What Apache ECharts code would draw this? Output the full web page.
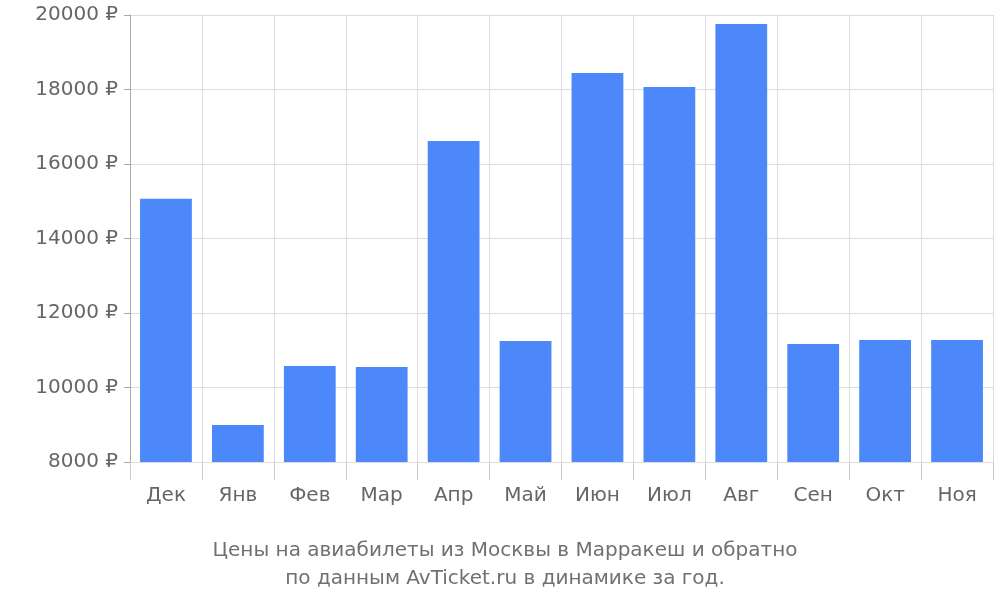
<!DOCTYPE html>
<html><head><meta charset="utf-8">
<script src="https://cdn.jsdelivr.net/npm/echarts@6/dist/echarts.min.js"></script>
<style>html,body{margin:0;padding:0;background:#fff}#c{width:1000px;height:600px}</style>
</head><body><div id="c"></div>
<script>
const categories = ['Дек','Янв','Фев','Мар','Апр','Май','Июн','Июл','Авг','Сен','Окт','Ноя'];
const prices = [15070, 8990, 10580, 10550, 16620, 11250, 18440, 18070, 19760, 11170, 11275, 11275];
const chart = echarts.init(document.getElementById('c'));
chart.setOption({
  animation:false,
  title:{text:'Цены на авиабилеты из Москвы в Марракеш и обратно\nпо данным AvTicket.ru в динамике за год.',
    left:500, textAlign:'center', top:532,
    textStyle:{fontFamily:'DejaVu Sans',fontSize:20,fontWeight:'normal',color:'#707070',lineHeight:28}},
  grid:{left:130,right:7,top:15,bottom:138},
  xAxis:{type:'category',data:categories,boundaryGap:true,
    axisLine:{show:false},
    axisTick:{show:true,length:18,lineStyle:{color:'#ccc'}},
    splitLine:{show:true,lineStyle:{color:'#ddd'}},
    axisLabel:{fontFamily:'DejaVu Sans',fontSize:20,color:'#666',margin:24}},
  yAxis:{type:'value',min:8000,max:20000,interval:2000,
    axisLine:{show:true,lineStyle:{color:'#aaa'}},
    axisTick:{show:true,length:6,lineStyle:{color:'#aaa'}},
    splitLine:{lineStyle:{color:'#ddd'}},
    axisLabel:{fontFamily:'DejaVu Sans',fontSize:20,color:'#666',margin:12,formatter:v=>v+' ₽'}},
  series:[{type:'bar',data:prices,barCategoryGap:'28%',itemStyle:{color:'#4d88fa'}}]
});
</script></body></html>
